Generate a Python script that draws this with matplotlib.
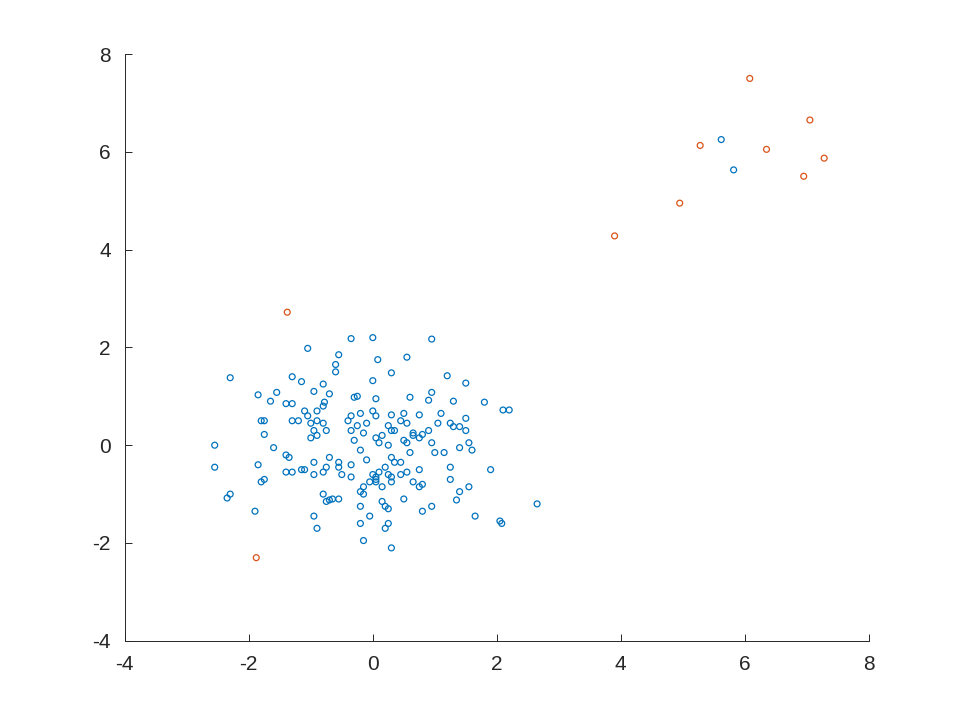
import matplotlib
matplotlib.use("Agg")
import matplotlib.pyplot as plt

blue_x = [-0.35,0.0,0.95,-1.05,-0.55,0.55,0.08,-0.6,-0.6,0.3,0.0,-1.3,-1.15,-2.3,-0.8,1.5,1.2,-1.85,-1.55,-0.95,-0.7,-0.25,-0.3,0.05,0.6,0.95,0.9,1.3,1.8,2.1,2.2,-1.65,-1.3,-1.4,-0.8,-0.78,-0.9,-1.1,-1.05,-0.35,-0.2,0.0,0.05,0.3,0.5,0.75,1.1,1.5,1.25,1.4,1.5,1.55,1.6,1.3,-1.75,-1.8,-1.3,-1.2,-1.0,-0.9,-0.8,-0.95,-0.75,-0.9,-1.0,-0.4,-0.35,-0.25,-0.1,-0.15,0.05,0.15,0.25,0.3,0.35,0.45,0.55,0.65,0.75,0.9,0.95,1.05,1.4,-1.75,-1.6,-2.55,-2.55,-1.4,-1.35,-1.4,-1.3,-1.15,-1.1,-0.95,-0.95,-0.8,-0.75,-0.7,-0.55,-0.5,-0.35,-0.3,-0.2,0.0,0.05,-0.05,0.1,0.2,0.25,0.3,0.35,0.25,0.45,0.55,0.6,0.55,0.65,0.8,0.75,0.65,0.75,0.8,1.0,1.15,1.25,1.25,1.4,1.55,1.9,1.65,2.05,2.08,2.65,1.35,0.95,0.8,0.5,0.3,0.15,0.05,-0.15,-0.2,-0.15,-0.35,-0.55,-0.75,-0.8,-0.7,-0.65,-1.85,-1.8,-1.75,-2.3,-2.35,-1.9,-0.95,-0.9,0.15,0.2,0.25,-0.2,-0.2,-0.05,0.25,0.2,-0.15,0.3,0.05,0.3,0.45,0.5,0.1,-0.1,-0.55,5.62,5.82]
blue_y = [2.18,2.2,2.17,1.98,1.85,1.8,1.75,1.65,1.5,1.48,1.32,1.4,1.3,1.38,1.25,1.27,1.42,1.03,1.08,1.1,1.05,1.0,0.98,0.95,0.98,1.08,0.92,0.9,0.88,0.72,0.72,0.9,0.85,0.85,0.8,0.88,0.7,0.7,0.6,0.6,0.65,0.7,0.6,0.62,0.65,0.62,0.65,0.55,0.45,0.38,0.3,0.05,-0.1,0.38,0.5,0.5,0.5,0.5,0.45,0.5,0.45,0.3,0.3,0.2,0.15,0.5,0.3,0.4,0.45,0.25,0.15,0.2,0.4,0.3,0.3,0.5,0.45,0.2,0.15,0.3,0.05,0.45,-0.05,0.22,-0.05,0.0,-0.45,-0.2,-0.25,-0.55,-0.55,-0.5,-0.5,-0.35,-0.6,-0.55,-0.45,-0.25,-0.35,-0.6,-0.4,0.1,-0.1,-0.6,-0.65,-0.75,-0.55,-0.45,-0.6,-0.25,-0.35,0.0,-0.6,-0.55,-0.15,0.05,0.25,0.22,-0.5,-0.75,-0.85,-0.8,-0.15,-0.15,-0.45,-0.7,-0.95,-0.85,-0.5,-1.45,-1.55,-1.6,-1.2,-1.12,-1.25,-1.35,-1.1,-0.75,-0.85,-0.7,-0.85,-0.95,-1.0,-0.65,-1.1,-1.15,-1.0,-1.12,-1.1,-0.4,-0.75,-0.7,-1.0,-1.08,-1.35,-1.45,-1.7,-1.15,-1.25,-1.3,-1.25,-1.6,-1.45,-1.6,-1.7,-1.95,-2.1,-0.75,-0.65,-0.35,0.1,0.05,-0.3,-0.45,6.25,5.63]
red_x = [-1.38,-1.88,3.9,4.95,5.28,6.08,6.35,7.05,6.95,7.28]
red_y = [2.72,-2.3,4.28,4.95,6.13,7.5,6.05,6.65,5.5,5.87]

plt.rcParams['font.family'] = ['Liberation Sans', 'DejaVu Sans']
plt.rcParams['axes.unicode_minus'] = False
fig = plt.figure(figsize=(9.6, 7.2), dpi=100)
ax = fig.add_axes([0.13, 0.11, 0.775, 0.815])
ax.scatter(blue_x, blue_y, s=18, facecolors='none', edgecolors='#0072BD', linewidths=0.9)
ax.scatter(red_x, red_y, s=18, facecolors='none', edgecolors='#D95319', linewidths=0.9)
ax.set_xlim(-4, 8)
ax.set_ylim(-4, 8)
ax.set_xticks(range(-4, 9, 2))
ax.set_yticks(range(-4, 9, 2))
for s in ['top', 'right']:
    ax.spines[s].set_visible(False)
for s in ['left', 'bottom']:
    ax.spines[s].set_color('#262626')
    ax.spines[s].set_linewidth(0.7)
ax.tick_params(direction='in', length=5, labelsize=15, colors='#262626', width=0.7)
ax.tick_params(axis='x', pad=10)
ax.tick_params(axis='y', pad=10)
fig.savefig('out.png', dpi=100)
